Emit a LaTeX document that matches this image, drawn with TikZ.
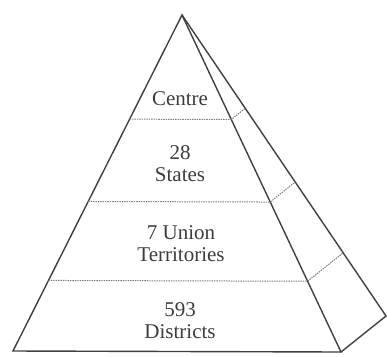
\documentclass[tikz,border=0pt]{standalone}
\usepackage{fontspec}
\setmainfont{Liberation Serif}
\usepackage{xcolor}
\usepackage{tikz}
\usetikzlibrary{calc}
\definecolor{edge}{HTML}{404040}
\definecolor{ink}{HTML}{3C3C3C}
\definecolor{dots}{HTML}{7A7A7A}

\begin{document}
\begin{tikzpicture}[
  x=1pt, y=-1pt,
  face/.style={draw=edge, line width=1.4pt, line join=miter},
  level/.style={draw=dots, line width=1pt, dash pattern=on 1.4pt off 1pt},
  tier/.style={align=center, text=ink, inner sep=0pt, font=\fontsize{21}{22}\selectfont}
]
\useasboundingbox (0,0) rectangle (387,356);
\coordinate (top) at (182,15);
\coordinate (bl) at (13,351);
\coordinate (fr) at (341,352);
\coordinate (bk) at (386,316);
\draw[face] (top) -- (bl) -- (fr) -- cycle;
\draw[face] (top) -- (bk) -- (fr);
\foreach \t in {0.31,0.555,0.79} {
  \draw[level] ($(top)!\t!(bl)$) -- ($(top)!\t!(fr)$) -- ($(top)!\t!(bk)$);
}
\node[tier] (centre) at (180,99) {Centre};
\node[tier] (states) at (180,164) {28\\States};
\node[tier] (ut) at (181,244) {7 Union\\Territories};
\node[tier] (districts) at (180,321) {593\\Districts};
\end{tikzpicture}
\end{document}
